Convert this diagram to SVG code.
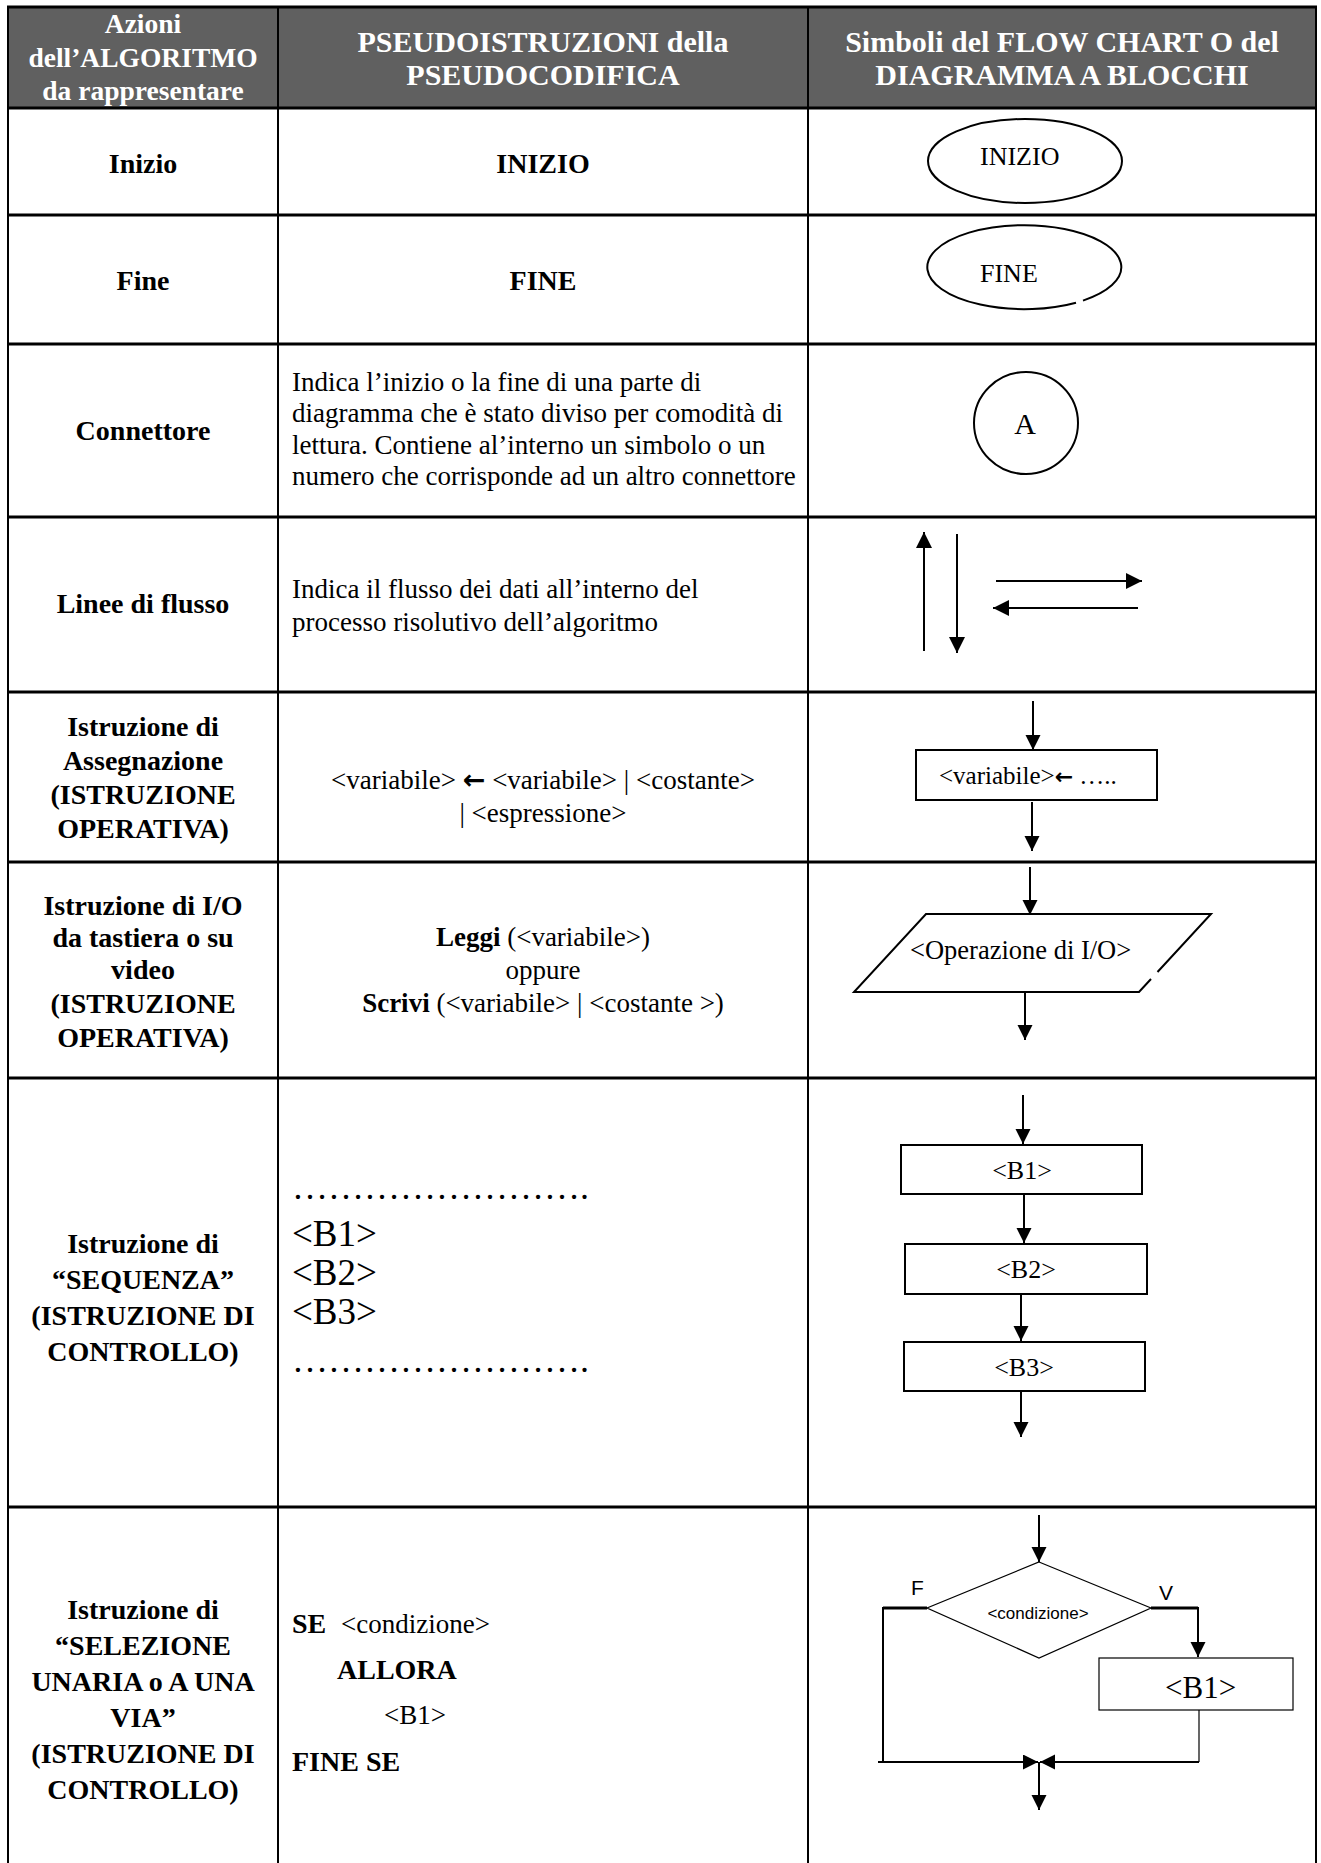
<svg xmlns="http://www.w3.org/2000/svg" width="1321" height="1863" viewBox="0 0 1321 1863">
<style>
  text { font-family: "Liberation Serif", "Times New Roman", serif; fill: #000; }
  .hd { fill: #fff; font-weight: bold; text-anchor: middle; }
  .lb { font-weight: bold; font-size: 28px; text-anchor: middle; }
  .tx { font-size: 27px; }
  .b { font-weight: bold; }
  .c { text-anchor: middle; }
  .sans { font-family: "Liberation Sans", Arial, sans-serif; }
  .hl { stroke: #000; stroke-width: 3; }
  .vl { stroke: #000; stroke-width: 2; }
  .ln { stroke: #000; stroke-width: 2; fill: none; }
  .thin { stroke: #000; stroke-width: 1.2; fill: none; }
  .box { stroke: #000; stroke-width: 2; fill: #fff; }
  .ar { stroke: #000; stroke-width: 2; fill: none; marker-end: url(#ah); }
  .arL { stroke: #000; stroke-width: 2; fill: none; marker-end: url(#ahL); }
</style>
<defs>
  <marker id="ah" markerUnits="userSpaceOnUse" markerWidth="16" markerHeight="16" refX="15" refY="7.5" orient="auto">
    <path d="M0,0 L15,7.5 L0,15 Z" fill="#000"/>
  </marker>
  <marker id="ahL" markerUnits="userSpaceOnUse" markerWidth="17" markerHeight="17" refX="16" refY="8" orient="auto">
    <path d="M0,0 L16,8 L0,16 Z" fill="#000"/>
  </marker>
</defs>

<!-- table grid -->
<g id="table">
  <rect x="8" y="7" width="1308" height="101" fill="#606060"/>
  <line class="hl" x1="7" y1="7" x2="1317" y2="7"/>
  <line class="hl" x1="7" y1="108" x2="1317" y2="108"/>
  <line class="hl" x1="7" y1="215" x2="1317" y2="215"/>
  <line class="hl" x1="7" y1="344" x2="1317" y2="344"/>
  <line class="hl" x1="7" y1="517" x2="1317" y2="517"/>
  <line class="hl" x1="7" y1="692" x2="1317" y2="692"/>
  <line class="hl" x1="7" y1="862" x2="1317" y2="862"/>
  <line class="hl" x1="7" y1="1078" x2="1317" y2="1078"/>
  <line class="hl" x1="7" y1="1507" x2="1317" y2="1507"/>
  <line class="vl" x1="8" y1="6" x2="8" y2="1863"/>
  <line class="vl" x1="278" y1="6" x2="278" y2="1863"/>
  <line class="vl" x1="808" y1="6" x2="808" y2="1863"/>
  <line class="vl" x1="1316" y1="6" x2="1316" y2="1863"/>
</g>

<!-- header -->
<g id="header">
  <text class="hd" x="143" y="33" font-size="27.5">Azioni</text>
  <text class="hd" x="143" y="67" font-size="27.5">dell’ALGORITMO</text>
  <text class="hd" x="143" y="100" font-size="27.5">da rappresentare</text>
  <text class="hd" x="543" y="52" font-size="30">PSEUDOISTRUZIONI della</text>
  <text class="hd" x="543" y="85" font-size="30">PSEUDOCODIFICA</text>
  <text class="hd" x="1062" y="52" font-size="30">Simboli del FLOW CHART O del</text>
  <text class="hd" x="1062" y="85" font-size="30">DIAGRAMMA A BLOCCHI</text>
</g>

<!-- row labels (column 1) -->
<g id="col1">
  <text class="lb" x="143" y="173">Inizio</text>
  <text class="lb" x="143" y="290">Fine</text>
  <text class="lb" x="143" y="440">Connettore</text>
  <text class="lb" x="143" y="613">Linee di flusso</text>
  <text class="lb" x="143" y="736">Istruzione di</text>
  <text class="lb" x="143" y="770">Assegnazione</text>
  <text class="lb" x="143" y="804">(ISTRUZIONE</text>
  <text class="lb" x="143" y="838">OPERATIVA)</text>
  <text class="lb" x="143" y="915">Istruzione di I/O</text>
  <text class="lb" x="143" y="947">da tastiera o su</text>
  <text class="lb" x="143" y="979">video</text>
  <text class="lb" x="143" y="1013">(ISTRUZIONE</text>
  <text class="lb" x="143" y="1047">OPERATIVA)</text>
  <text class="lb" x="143" y="1253">Istruzione di</text>
  <text class="lb" x="143" y="1289">“SEQUENZA”</text>
  <text class="lb" x="143" y="1325">(ISTRUZIONE DI</text>
  <text class="lb" x="143" y="1361">CONTROLLO)</text>
  <text class="lb" x="143" y="1619">Istruzione di</text>
  <text class="lb" x="143" y="1655">“SELEZIONE</text>
  <text class="lb" x="143" y="1691">UNARIA o A UNA</text>
  <text class="lb" x="143" y="1727">VIA”</text>
  <text class="lb" x="143" y="1763">(ISTRUZIONE DI</text>
  <text class="lb" x="143" y="1799">CONTROLLO)</text>
</g>

<!-- pseudocode (column 2) -->
<g id="col2">
  <text class="lb" x="543" y="173">INIZIO</text>
  <text class="lb" x="543" y="290">FINE</text>
  <text class="tx" x="292" y="391">Indica l’inizio o la fine di una parte di</text>
  <text class="tx" x="292" y="422">diagramma che è stato diviso per comodità di</text>
  <text class="tx" x="292" y="454">lettura. Contiene al’interno un simbolo o un</text>
  <text class="tx" x="292" y="485">numero che corrisponde ad un altro connettore</text>
  <text class="tx" x="292" y="598">Indica il flusso dei dati all’interno del</text>
  <text class="tx" x="292" y="631">processo risolutivo dell’algoritmo</text>
  <text class="tx c" x="543" y="789">&lt;variabile&gt; <tspan font-family="DejaVu Sans" font-weight="bold">←</tspan> &lt;variabile&gt; | &lt;costante&gt;</text>
  <text class="tx c" x="543" y="822">| &lt;espressione&gt;</text>
  <text class="tx c" x="543" y="946"><tspan class="b">Leggi</tspan> (&lt;variabile&gt;)</text>
  <text class="tx c" x="543" y="979">oppure</text>
  <text class="tx c" x="543" y="1012"><tspan class="b">Scrivi</tspan> (&lt;variabile&gt; | &lt;costante  &gt;)</text>
  <text x="292" y="1199" font-size="36">…………………….</text>
  <text x="292" y="1246" font-size="37">&lt;B1&gt;</text>
  <text x="292" y="1285" font-size="37">&lt;B2&gt;</text>
  <text x="292" y="1324" font-size="37">&lt;B3&gt;</text>
  <text x="292" y="1372" font-size="36">…………………….</text>
  <text class="tx" x="292" y="1633"><tspan class="b" font-size="28">SE</tspan>  <tspan x="341">&lt;condizione&gt;</tspan></text>
  <text class="b" x="337" y="1679" font-size="28">ALLORA</text>
  <text class="tx" x="384" y="1724">&lt;B1&gt;</text>
  <text class="b" x="292" y="1771" font-size="28">FINE SE</text>
</g>

<!-- column 3 symbols -->
<g id="node-inizio">
  <ellipse class="ln" cx="1025" cy="161" rx="97" ry="42"/>
  <text x="980" y="165" font-size="26">INIZIO</text>
</g>
<g id="node-fine">
  <path class="ln" d="M1083,300.6 A97,42 0 1 0 1076,302.7"/>
  <text x="980" y="282" font-size="26">FINE</text>
</g>
<g id="node-connettore">
  <ellipse class="ln" cx="1026" cy="423" rx="52" ry="51" stroke-width="1.6"/>
  <text class="c" x="1025" y="434" font-size="30">A</text>
</g>
<g id="node-assegnazione">
  <rect class="box" x="916" y="750" width="241" height="50"/>
  <text x="939" y="784" font-size="25">&lt;variabile&gt;<tspan font-family="DejaVu Sans" font-weight="bold" font-size="22">←</tspan> …..</text>
</g>
<g id="node-io">
  <path class="ln" d="M1151,979 L1139,992 L854,992 L926,914 L1211,914 L1157.5,972"/>
  <text x="910" y="959" font-size="26.5">&lt;Operazione di I/O&gt;</text>
</g>
<g id="node-b1">
  <rect class="box" x="901" y="1145" width="241" height="49"/>
  <text class="c" x="1022" y="1179" font-size="26">&lt;B1&gt;</text>
</g>
<g id="node-b2">
  <rect class="box" x="905" y="1244" width="242" height="50"/>
  <text class="c" x="1026" y="1278" font-size="26">&lt;B2&gt;</text>
</g>
<g id="node-b3">
  <rect class="box" x="904" y="1342" width="241" height="49"/>
  <text class="c" x="1024" y="1376" font-size="26">&lt;B3&gt;</text>
</g>
<g id="node-condizione">
  <polygon class="thin" points="1039,1562 1151,1608 1039,1658 927,1608"/>
  <text class="sans c" x="1038" y="1619" font-size="17">&lt;condizione&gt;</text>
  <text class="sans" x="911" y="1595" font-size="21">F</text>
  <text class="sans" x="1159" y="1600" font-size="21">V</text>
</g>
<g id="node-b1-sel">
  <rect class="thin" x="1099" y="1658" width="194" height="52"/>
  <text x="1165" y="1698" font-size="31">&lt;B1&gt;</text>
</g>

<!-- connectors -->
<g id="connectors">
  <line class="arL" x1="924" y1="651" x2="924" y2="532"/>
  <line class="arL" x1="957" y1="534" x2="957" y2="653"/>
  <line class="arL" x1="996" y1="581" x2="1142" y2="581" stroke-width="2.6"/>
  <line class="arL" x1="1138" y1="608" x2="993" y2="608" stroke-width="2.6"/>
  <line class="ar" x1="1033" y1="701" x2="1033" y2="750"/>
  <line class="ar" x1="1032" y1="802" x2="1032" y2="851"/>
  <line class="ar" x1="1030" y1="867" x2="1030" y2="915"/>
  <line class="ar" x1="1025" y1="993" x2="1025" y2="1040"/>
  <line class="ar" x1="1023" y1="1095" x2="1023" y2="1144"/>
  <line class="ar" x1="1024" y1="1195" x2="1024" y2="1243"/>
  <line class="ar" x1="1021" y1="1295" x2="1021" y2="1341"/>
  <line class="ar" x1="1021" y1="1392" x2="1021" y2="1437"/>
  <line class="ar" x1="1039" y1="1515" x2="1039" y2="1562"/>
  <polyline points="927,1608 883,1608" stroke="#000" stroke-width="3" fill="none"/>
  <line x1="883" y1="1607" x2="883" y2="1762" stroke="#000" stroke-width="2"/>
  <polyline points="1151,1608 1198,1608" stroke="#000" stroke-width="3" fill="none"/>
  <line class="ar" x1="1198" y1="1607" x2="1198" y2="1657" stroke-width="2.5"/>
  <line class="thin" x1="1199" y1="1710" x2="1199" y2="1762"/>
  <line class="ar" x1="878" y1="1762" x2="1038" y2="1762" stroke-width="3.5"/>
  <line class="ar" x1="1199" y1="1762" x2="1040" y2="1762" stroke-width="3.5"/>
  <line class="ar" x1="1039" y1="1762" x2="1039" y2="1810"/>
</g>
</svg>
